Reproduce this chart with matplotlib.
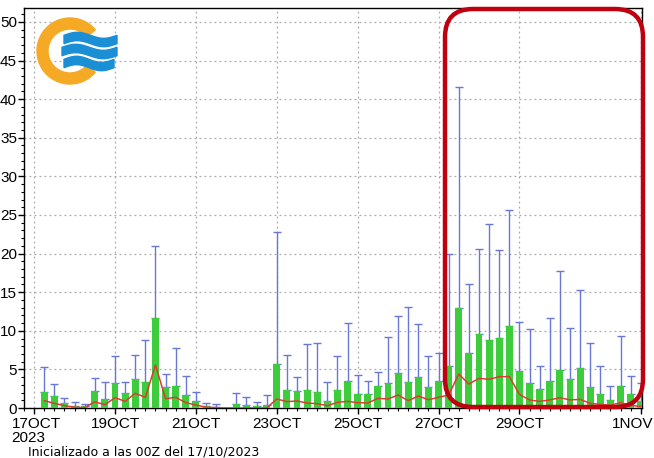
import numpy as np
import pandas as pd
import matplotlib
matplotlib.use("Agg")
import matplotlib.pyplot as plt
import matplotlib.dates as mdates
import matplotlib.transforms as mtransforms
from matplotlib.patches import FancyBboxPatch, Wedge, Polygon

# ---- data (6-hourly, starting 17 Oct 2023 06Z) ----
times = pd.date_range("2023-10-17 06:00", periods=60, freq="6h")
bar_vals = [2.07, 1.55, 0.65, 0.3, 0.3, 2.15, 1.17, 3.24, 1.94, 3.71,
            3.37, 11.7, 2.72, 2.85, 1.64, 0.95, 0.2, 0.15, 0.05, 0.56,
            0.39, 0.3, 0.43, 5.7, 2.37, 2.16, 2.29, 2.07, 0.86, 2.29,
            3.5, 1.77, 1.77, 2.85, 3.24, 4.58, 3.37, 4.0, 2.72, 3.5,
            5.48, 12.9, 7.12, 9.54, 8.85, 9.07, 10.62, 4.84, 3.2, 2.5,
            3.5, 4.92, 3.8, 5.14, 2.72, 1.86, 1.08, 2.8, 1.77, 0.9]
max_vals = [5.35, 3.1, 1.25, 0.73, 0.47, 3.84, 3.37, 6.78, 3.37, 6.87,
            8.77, 20.98, 4.45, 7.77, 4.14, 2.03, 0.69, 0.52, 0.05, 1.9,
            1.38, 0.82, 1.64, 22.84, 6.87, 4.06, 8.33, 8.42, 3.37, 6.78,
            11.05, 4.27, 3.5, 4.62, 9.2, 11.9, 13.04, 10.92, 6.78, 7.12,
            20.0, 41.6, 16.1, 20.6, 23.8, 20.47, 25.6, 11.1, 10.2, 5.48,
            11.6, 17.7, 10.3, 15.3, 8.42, 5.48, 2.85, 9.28, 4.14, 3.2]
line_vals = [0.95, 0.6, 0.3, 0.1, 0.05, 0.8, 0.43, 1.34, 0.86, 1.9,
             1.38, 5.57, 1.2, 1.38, 0.69, 0.39, 0.1, 0.05, 0.0, 0.0,
             0.0, 0.0, 0.0, 1.17, 0.82, 0.91, 0.65, 0.56, 0.3, 0.73,
             0.86, 0.69, 0.65, 1.25, 1.17, 1.68, 0.95, 1.55, 1.08, 1.38,
             1.68, 4.4, 3.1, 3.84, 3.71, 4.06, 4.06, 1.77, 1.04, 0.86,
             1.04, 1.34, 1.04, 1.12, 0.6, 0.47, 0.34, 0.69, 0.34, 0.2]
tick_dates = pd.DatetimeIndex(["2023-10-17", "2023-10-19", "2023-10-21",
                               "2023-10-23", "2023-10-25", "2023-10-27",
                               "2023-10-29", "2023-11-01"])
tick_labels = ["17OCT\n2023", "19OCT", "21OCT", "23OCT", "25OCT", "27OCT",
               "29OCT", "1NOV"]
y_ticks = [0, 5, 10, 15, 20, 25, 30, 35, 40, 45, 50]
footer = "Inicializado a las 00Z del 17/10/2023"

tick_font = ["Liberation Sans Narrow", "Liberation Sans", "DejaVu Sans"]

W, H = 654, 458
fig = plt.figure(figsize=(W / 100, H / 100), dpi=100)
ax = fig.add_axes([24 / W, 1 - 408 / H, (642 - 24) / W, 400 / H])

x = mdates.date2num(times.to_pydatetime())
bars = np.array(bar_vals)
mx = np.array(max_vals)
ax.bar(x, bars, width=0.17, color="#3ccc3c", zorder=3)
ax.errorbar(x, bars, yerr=[np.zeros_like(bars), mx - bars], fmt="none",
            ecolor="#6878d4", elinewidth=1.0, capsize=3, capthick=1.0,
            zorder=2)
ax.plot(x, line_vals, color="#e03a30", lw=1.1, zorder=4)

x0 = mdates.date2num(pd.Timestamp("2023-10-17"))
ax.set_xlim(x0 - 10 / 40.5, x0 + 15.03)
ax.set_ylim(0, 51.8)

ax.set_xticks(mdates.date2num(tick_dates.to_pydatetime()))
ax.set_xticklabels(tick_labels, fontsize=11, family=tick_font)
ax.set_xticks(np.arange(x0 - 0.25, x0 + 15.01, 0.25), minor=True)
ax.set_yticks(y_ticks)
ax.set_yticklabels([str(v) for v in y_ticks], fontsize=11, family=tick_font)
ax.set_yticks(np.arange(0, 52, 1), minor=True)
ax.tick_params(axis="both", which="major", direction="out", length=4,
               width=1, pad=1)
ax.tick_params(axis="x", which="major", pad=2.5)
ax.tick_params(axis="both", which="minor", direction="out", length=2,
               width=0.8)
labs = ax.get_xticklabels()
labs[0].set_multialignment("left")
labs[0].set_linespacing(1.0)
labs[0].set_transform(labs[0].get_transform() +
                      mtransforms.ScaledTranslation(2 / 100, 0,
                                                    fig.dpi_scale_trans))
labs[-1].set_transform(labs[-1].get_transform() +
                       mtransforms.ScaledTranslation(-8 / 100, 0,
                                                     fig.dpi_scale_trans))
ax.grid(True, which="major", color="#aaaaaa", linestyle=(0, (1.5, 2.5)),
        lw=0.9, zorder=0)
ax.set_axisbelow(True)
for s in ax.spines.values():
    s.set_linewidth(1.0)

fig.text(28 / W, 1 - 452 / H, footer, fontsize=9, va="center",
         ha="left")

# ---- overlay (pixel coordinates): logo and highlight box ----
ov = fig.add_axes([0, 0, 1, 1], zorder=10)
ov.set_xlim(0, W)
ov.set_ylim(H, 0)
ov.axis("off")
ov.patch.set_alpha(0)

ov.add_patch(FancyBboxPatch((445, 9), 643 - 445, 407 - 9,
                            boxstyle="round,pad=0,rounding_size=28",
                            fill=False, edgecolor="#c0000f", lw=3.2))

ov.add_patch(Wedge((70, 51), 33, 40, 320, width=11, color="#f6a925"))
for cy, xa, xb in [(39.5, 64, 117), (51.5, 62, 117), (63.5, 64, 114)]:
    xs = np.linspace(xa, xb, 40)
    yc = cy - 3.0 * np.sin((xs - xa) / (xb - xa) * 2 * np.pi)
    poly = np.vstack([np.column_stack([xs, yc - 4.2]),
                      np.column_stack([xs[::-1], yc[::-1] + 4.2])])
    ov.add_patch(Polygon(poly, closed=True, color="#1b8fd6"))

fig.savefig("out.png", dpi=100)
